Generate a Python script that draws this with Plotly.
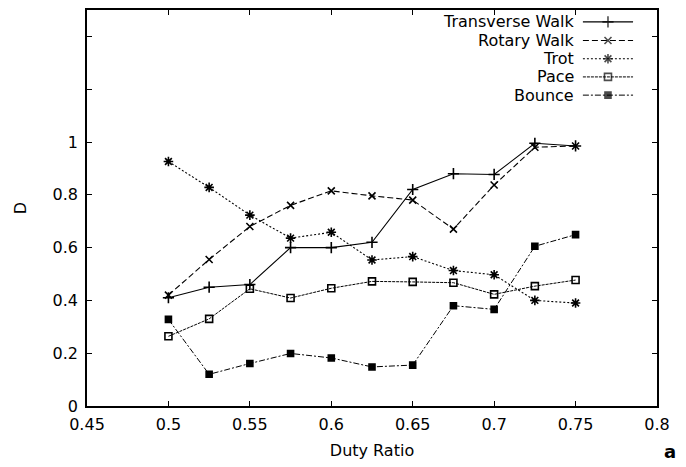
import plotly.graph_objects as go

# ---- data ----
duty_ratio = [0.5, 0.525, 0.55, 0.575, 0.6, 0.625, 0.65, 0.675, 0.7, 0.725, 0.75]
transverse_walk = [0.41, 0.45, 0.46, 0.60, 0.60, 0.62, 0.82, 0.88, 0.877, 0.995, 0.985]
rotary_walk = [0.42, 0.555, 0.68, 0.76, 0.815, 0.796, 0.78, 0.67, 0.837, 0.98, 0.985]
trot = [0.926, 0.828, 0.723, 0.636, 0.658, 0.553, 0.566, 0.513, 0.497, 0.40, 0.39]
pace = [0.264, 0.33, 0.444, 0.409, 0.446, 0.472, 0.47, 0.467, 0.423, 0.454, 0.477]
bounce = [0.328, 0.12, 0.161, 0.199, 0.182, 0.148, 0.155, 0.38, 0.366, 0.605, 0.649]

series_names = ["Transverse Walk", "Rotary Walk", "Trot", "Pace", "Bounce"]
x_ticks = [0.45, 0.5, 0.55, 0.6, 0.65, 0.7, 0.75, 0.8]
x_tick_labels = ["0.45", "0.5", "0.55", "0.6", "0.65", "0.7", "0.75", "0.8"]
y_ticks = [0, 0.2, 0.4, 0.6, 0.8, 1.0, 1.2, 1.4]
y_tick_labels = ["0", "0.2", "0.4", "0.6", "0.8", "1", "", ""]

# ---- styles ----
FONT = "DejaVu Sans, Liberation Sans, Arial, sans-serif"
styles = [
    dict(dash="solid", symbol="cross-thin-open", size=8, lw=1.1),
    dict(dash="6px,3px", symbol="x-thin-open", size=7, lw=1.1),
    dict(dash="2px,2px", symbol="asterisk-open", size=8, lw=1.1),
    dict(dash="3px,1px", symbol="square-open", size=7, lw=1.0),
    dict(dash="6px,2px,2px,2px", symbol="square", size=6, lw=1.0),
]
all_series = [transverse_walk, rotary_walk, trot, pace, bounce]

fig = go.Figure()
for name, ys, st in zip(series_names, all_series, styles):
    fig.add_trace(go.Scatter(
        x=duty_ratio, y=ys, name=name, mode="lines+markers",
        line=dict(color="black", width=st["lw"], dash=st["dash"]),
        marker=dict(symbol=st["symbol"], size=st["size"], color="black",
                    line=dict(color="black", width=1.6)),
        showlegend=False,
    ))

# ---- manual legend (text on the left, sample on the right) ----
leg_text_x = 0.858
leg_x0, leg_x1 = 0.870, 0.958
leg_rows = [0.970, 0.923, 0.877, 0.831, 0.785]
annotations = []
for name, st, ry in zip(series_names, styles, leg_rows):
    fig.add_trace(go.Scatter(
        x=[leg_x0, (leg_x0 + leg_x1) / 2, leg_x1], y=[ry, ry, ry],
        mode="lines+markers", xaxis="x2", yaxis="y2", showlegend=False,
        hoverinfo="skip",
        line=dict(color="black", width=st["lw"], dash=st["dash"]),
        marker=dict(symbol=st["symbol"], size=[0, st["size"], 0], color="black",
                    line=dict(color="black", width=1.6)),
    ))
    annotations.append(dict(x=leg_text_x, y=ry, xref="paper", yref="paper",
                            text=name, showarrow=False, xanchor="right",
                            yanchor="middle", font=dict(size=16, color="black", family=FONT)))

annotations.append(dict(x=1.037, y=-0.116, xref="paper", yref="paper", text="<b>a</b>",
                        showarrow=False, xanchor="right", yanchor="middle",
                        font=dict(size=18, color="black", family=FONT)))

axis_common = dict(showgrid=False, zeroline=False, showline=True, linecolor="black",
                   linewidth=1.5, mirror="ticks", ticks="inside", ticklen=5,
                   tickcolor="black", tickwidth=1.2,
                   tickfont=dict(size=16, color="black", family=FONT))

fig.update_layout(
    width=678, height=459,
    margin=dict(l=79, r=29, t=0, b=61),
    paper_bgcolor="white", plot_bgcolor="white",
    font=dict(family=FONT, color="black", size=16),
    xaxis=dict(range=[0.45, 0.8], tickvals=x_ticks, ticktext=x_tick_labels,
               ticklabelstandoff=3,
               title=dict(text="Duty Ratio", standoff=12, font=dict(size=16)),
               **axis_common),
    yaxis=dict(range=[0, 1.5], tickvals=y_ticks, ticktext=y_tick_labels,
               ticklabelstandoff=4,
               title=dict(text="D", standoff=22, font=dict(size=16)),
               **axis_common),
    xaxis2=dict(range=[0, 1], overlaying="x", visible=False, fixedrange=True),
    yaxis2=dict(range=[0, 1], overlaying="y", visible=False, fixedrange=True),
    annotations=annotations,
)

fig.write_html("out.html")
